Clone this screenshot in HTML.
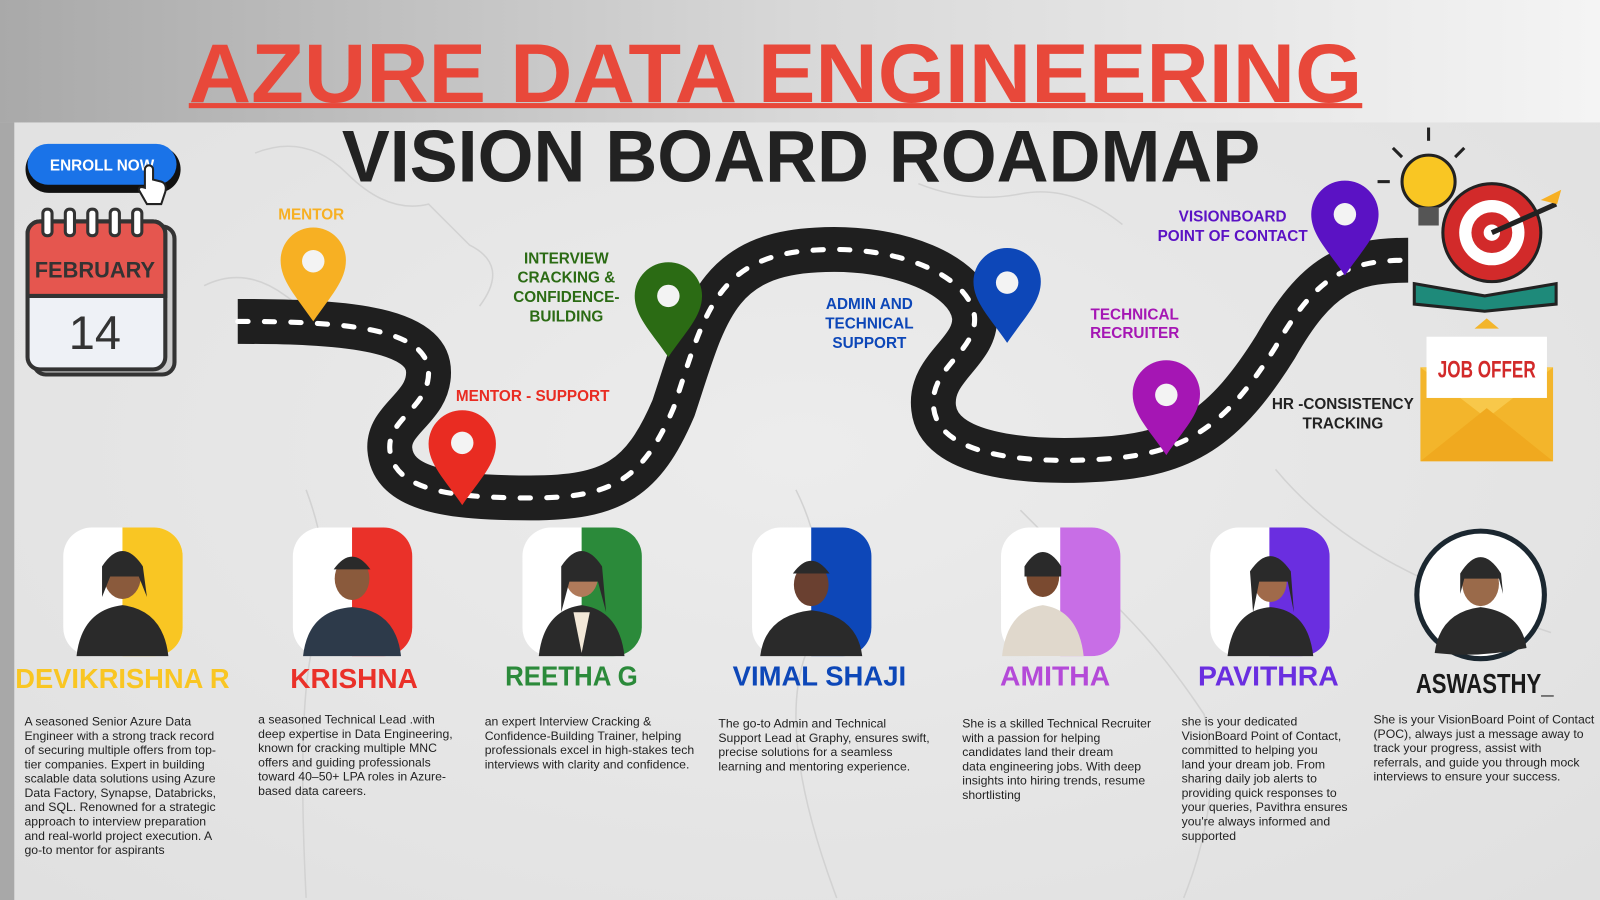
<!DOCTYPE html>
<html><head><meta charset="utf-8"><style>
html,body{margin:0;padding:0;width:1600px;height:900px;overflow:hidden;background:#e6e6e6}
svg{display:block}
text{font-family:"Liberation Sans",sans-serif}
</style></head><body>
<svg width="1600" height="900" viewBox="0 0 1568 882" preserveAspectRatio="none" xmlns="http://www.w3.org/2000/svg">
<defs>
<linearGradient id="top" x1="0" x2="1" y1="0" y2="0"><stop offset="0" stop-color="#a9a9a9"/><stop offset="0.5" stop-color="#d8d8d8"/><stop offset="1" stop-color="#f4f4f4"/></linearGradient>
<radialGradient id="bg" cx="0.5" cy="0.5" r="0.7"><stop offset="0" stop-color="#ececec"/><stop offset="1" stop-color="#e0e0e0"/></radialGradient>
</defs>
<rect width="1568" height="882" fill="url(#bg)"/>
<rect width="1568" height="120" fill="url(#top)"/>
<rect x="0" y="120" width="14" height="762" fill="#a8a8a8"/>
<g fill="none" stroke="#d2d2d2" stroke-width="1.5">
<path d="M250 150 Q300 130 340 170 T420 200 L460 240 Q500 260 470 300"/>
<path d="M200 280 Q240 260 280 290 T360 310"/>
<path d="M300 480 Q330 560 310 620 T300 880"/>
<path d="M780 480 Q820 560 790 640 T820 880"/>
<path d="M1000 500 Q1060 560 1100 600 T1180 700 Q1200 780 1160 880"/>
<path d="M1250 460 Q1300 520 1380 560 T1520 620"/>
<path d="M900 180 Q950 200 1000 190 T1100 220"/>
</g>
<text x="185" y="100" font-size="82" font-weight="bold" fill="#e8483a" textLength="1150" lengthAdjust="spacingAndGlyphs">AZURE DATA ENGINEERING</text>
<rect x="185" y="101" width="1150" height="5" fill="#e8483a"/>
<text x="335" y="178" font-size="72" font-weight="bold" fill="#222" textLength="900" lengthAdjust="spacingAndGlyphs">VISION BOARD ROADMAP</text>
<rect x="25" y="143" width="152" height="46" rx="23" fill="#111"/>
<rect x="27" y="141" width="146" height="40" rx="20" fill="#1a73e8"/>
<text x="100" y="167" font-size="15" font-weight="bold" fill="#fff" text-anchor="middle">ENROLL NOW</text>
<path d="M142 178 l0 -12 a4 4 0 0 1 8 0 l0 10 l8 2 q6 2 4 10 l-4 12 l-14 0 l-8 -14 q0 -4 6 -2z" fill="#fff" stroke="#222" stroke-width="2"/>
<rect x="33" y="222" width="138" height="145" rx="12" fill="#ccc" stroke="#333" stroke-width="4"/>
<rect x="27" y="217" width="135" height="145" rx="12" fill="#eef1f6" stroke="#333" stroke-width="4"/>
<path d="M27 290 L27 229 a12 12 0 0 1 12 -12 L150 217 a12 12 0 0 1 12 12 L162 290z" fill="#e5564f" stroke="#333" stroke-width="4"/>
<g fill="#fff" stroke="#333" stroke-width="3"><rect x="42" y="205" width="9" height="26" rx="4"/><rect x="64" y="205" width="9" height="26" rx="4"/><rect x="86" y="205" width="9" height="26" rx="4"/><rect x="108" y="205" width="9" height="26" rx="4"/><rect x="130" y="205" width="9" height="26" rx="4"/></g>
<text x="93" y="272" font-size="22" font-weight="bold" fill="#333" text-anchor="middle" textLength="118" lengthAdjust="spacingAndGlyphs">FEBRUARY</text>
<text x="93" y="342" font-size="46" fill="#333" text-anchor="middle">14</text>
<path d="M233 315 C330 315 420 320 420 365 C420 400 380 410 382 440 C385 480 440 488 520 488 C600 488 630 470 660 400 C690 310 700 250 800 245 C880 240 950 270 955 310 C958 345 910 360 915 400 C920 445 1000 455 1080 450 C1160 445 1200 420 1250 340 C1290 270 1320 255 1380 255" fill="none" stroke="#1f1f1f" stroke-width="44" stroke-linejoin="round"/>
<path d="M233 315 C330 315 420 320 420 365 C420 400 380 410 382 440 C385 480 440 488 520 488 C600 488 630 470 660 400 C690 310 700 250 800 245 C880 240 950 270 955 310 C958 345 910 360 915 400 C920 445 1000 455 1080 450 C1160 445 1200 420 1250 340 C1290 270 1320 255 1380 255" fill="none" stroke="#fff" stroke-width="5" stroke-dasharray="10 16" stroke-linecap="round"/>
<g>
<path d="M307 315 C290 290 275 275 275 255 a32 32 0 0 1 64 0 C339 275 324 290 307 315z" fill="#f7b023"/><circle cx="307" cy="256" r="11" fill="#f3f3f3"/>
<path d="M453 495 C436 470 420 455 420 435 a33 33 0 0 1 66 0 C486 455 470 470 453 495z" fill="#e92c22"/><circle cx="453" cy="434" r="11" fill="#f3f3f3"/>
<path d="M655 350 C638 325 622 310 622 290 a33 33 0 0 1 66 0 C688 310 672 325 655 350z" fill="#2b6b14"/><circle cx="655" cy="290" r="11" fill="#f3f3f3"/>
<path d="M987 336 C970 311 954 296 954 276 a33 33 0 0 1 66 0 C1020 296 1004 311 987 336z" fill="#0d47b8"/><circle cx="987" cy="277" r="11" fill="#f3f3f3"/>
<path d="M1143 446 C1126 421 1110 406 1110 386 a33 33 0 0 1 66 0 C1176 406 1160 421 1143 446z" fill="#a516b4"/><circle cx="1143" cy="387" r="11" fill="#f3f3f3"/>
<path d="M1318 270 C1301 245 1285 230 1285 210 a33 33 0 0 1 66 0 C1351 230 1335 245 1318 270z" fill="#5b12c4"/><circle cx="1318" cy="210" r="11" fill="#f3f3f3"/>
</g>
<g font-size="15" font-weight="bold" text-anchor="middle">
<text x="305" y="215" fill="#f7b023">MENTOR</text>
<text x="522" y="393" fill="#e92c22">MENTOR - SUPPORT</text>
<text fill="#2b6b14"><tspan x="555" y="258">INTERVIEW</tspan><tspan x="555" y="277">CRACKING &amp;</tspan><tspan x="555" y="296">CONFIDENCE-</tspan><tspan x="555" y="315">BUILDING</tspan></text>
<text fill="#0d47b8"><tspan x="852" y="303">ADMIN AND</tspan><tspan x="852" y="322">TECHNICAL</tspan><tspan x="852" y="341">SUPPORT</tspan></text>
<text fill="#a516b4"><tspan x="1112" y="313">TECHNICAL</tspan><tspan x="1112" y="331">RECRUITER</tspan></text>
<text fill="#5b12c4"><tspan x="1208" y="217">VISIONBOARD</tspan><tspan x="1208" y="236">POINT OF CONTACT</tspan></text>
<text fill="#222"><tspan x="1316" y="401">HR -CONSISTENCY</tspan><tspan x="1316" y="420">TRACKING</tspan></text>
</g>
<circle cx="1400" cy="178" r="26" fill="#f9c623" stroke="#222" stroke-width="3"/>
<rect x="1390" y="203" width="20" height="18" fill="#555"/>
<g stroke="#222" stroke-width="3"><line x1="1400" y1="125" x2="1400" y2="138"/><line x1="1365" y1="145" x2="1374" y2="154"/><line x1="1435" y1="145" x2="1426" y2="154"/><line x1="1350" y1="178" x2="1362" y2="178"/></g>
<circle cx="1462" cy="228" r="48" fill="#d22a2a" stroke="#222" stroke-width="3"/>
<circle cx="1462" cy="228" r="32" fill="#fff"/><circle cx="1462" cy="228" r="20" fill="#d22a2a"/><circle cx="1462" cy="228" r="8" fill="#fff"/>
<line x1="1462" y1="228" x2="1525" y2="200" stroke="#222" stroke-width="5"/>
<path d="M1510 196 l20 -10 l-4 14z" fill="#f7b023"/>
<path d="M1386 278 L1455 290 L1525 278 L1525 298 L1455 305 L1386 298z" fill="#1e8a7a" stroke="#222" stroke-width="3"/>
<rect x="1392" y="360" width="130" height="92" fill="#f3b52b"/>
<path d="M1392 360 L1457 410 L1522 360z" fill="#f8c84a"/>
<path d="M1392 452 L1457 400 L1522 452z" fill="#f0a91f"/>
<rect x="1398" y="330" width="118" height="60" fill="#fff"/>
<path d="M1445 322 L1457 312 L1469 322z" fill="#f3b52b"/>
<text x="1457" y="370" font-size="24" font-weight="bold" fill="#d22a2a" text-anchor="middle" textLength="96" lengthAdjust="spacingAndGlyphs">JOB OFFER</text>
<g>
<g transform="translate(62,517)"><rect width="117" height="126" rx="28" fill="#fff"/><path d="M58 0 H89 a28 28 0 0 1 28 28 V98 a28 28 0 0 1 -28 28 H58z" fill="#f9c623"/></g>
<g transform="translate(287,517)"><rect width="117" height="126" rx="28" fill="#fff"/><path d="M58 0 H89 a28 28 0 0 1 28 28 V98 a28 28 0 0 1 -28 28 H58z" fill="#ea3129"/></g>
<g transform="translate(512,517)"><rect width="117" height="126" rx="28" fill="#fff"/><path d="M58 0 H89 a28 28 0 0 1 28 28 V98 a28 28 0 0 1 -28 28 H58z" fill="#2b8a3a"/></g>
<g transform="translate(737,517)"><rect width="117" height="126" rx="28" fill="#fff"/><path d="M58 0 H89 a28 28 0 0 1 28 28 V98 a28 28 0 0 1 -28 28 H58z" fill="#0d47b8"/></g>
<g transform="translate(981,517)"><rect width="117" height="126" rx="28" fill="#fff"/><path d="M58 0 H89 a28 28 0 0 1 28 28 V98 a28 28 0 0 1 -28 28 H58z" fill="#c86ee6"/></g>
<g transform="translate(1186,517)"><rect width="117" height="126" rx="28" fill="#fff"/><path d="M58 0 H89 a28 28 0 0 1 28 28 V98 a28 28 0 0 1 -28 28 H58z" fill="#6a2ee0"/></g>
<circle cx="1451" cy="583" r="65" fill="#1b2730"/><circle cx="1451" cy="583" r="60" fill="#fff"/>
</g>
<g fill="#2a2a2a">
<g transform="translate(120,0)"><ellipse cx="0" cy="565" rx="18" ry="22" fill="#8a5a3c"/><path d="M-20 555 q20 -30 40 0 l4 30 l-8 -20 l-28 0 l-8 20z"/><path d="M-45 643 q5 -45 45 -50 q40 5 45 50z"/></g>
<g transform="translate(345,0)"><ellipse cx="0" cy="567" rx="17" ry="21" fill="#8a5a3c"/><path d="M-18 558 q18 -25 36 0z"/><path d="M-48 643 q5 -45 48 -48 q43 3 48 48z" fill="#2d3a4a"/></g>
<g transform="translate(570,0)"><ellipse cx="0" cy="565" rx="16" ry="20" fill="#b07a5a"/><path d="M-20 555 q20 -30 40 0 l4 45 l-8 -30 l-28 0 l-8 30z"/><path d="M-42 643 q5 -45 42 -50 q37 5 42 50z"/><path d="M-8 600 l8 40 l8 -40z" fill="#f2e8d8"/></g>
<g transform="translate(795,0)"><ellipse cx="0" cy="573" rx="17" ry="21" fill="#6a4030"/><path d="M-18 562 q18 -25 36 0z"/><path d="M-50 643 q5 -40 50 -45 q45 5 50 45z"/></g>
<g transform="translate(1022,0)"><ellipse cx="0" cy="565" rx="16" ry="20" fill="#7a4a30"/><path d="M-18 555 q18 -28 36 0 l0 10 l-36 0z"/><path d="M-40 643 q5 -45 40 -50 q35 5 40 50z" fill="#e0d8cc"/></g>
<g transform="translate(1245,0)"><ellipse cx="0" cy="570" rx="16" ry="20" fill="#a06a4a"/><path d="M-20 560 q20 -30 40 0 l3 40 l-6 -30 l-28 0 l-6 30z"/><path d="M-42 643 q5 -45 42 -48 q37 3 42 48z"/></g>
<g transform="translate(1451,0)"><ellipse cx="0" cy="572" rx="18" ry="22" fill="#9a6a4a"/><path d="M-20 562 q20 -32 40 0 l2 20 l-4 -15 l-34 0 l-4 15z"/><path d="M-45 640 q5 -40 45 -45 q40 5 45 40 q-45 10 -90 5z"/></g>
</g>
<g font-size="27" font-weight="bold" text-anchor="middle">
<text x="120" y="674" fill="#f9c623" textLength="210" lengthAdjust="spacingAndGlyphs">DEVIKRISHNA R</text>
<text x="347" y="674" fill="#ea3129" textLength="125" lengthAdjust="spacingAndGlyphs">KRISHNA</text>
<text x="560" y="672" fill="#2b8a3a" textLength="130" lengthAdjust="spacingAndGlyphs">REETHA G</text>
<text x="803" y="672" fill="#0d47b8" textLength="170" lengthAdjust="spacingAndGlyphs">VIMAL SHAJI</text>
<text x="1034" y="672" fill="#b44ad8" textLength="108" lengthAdjust="spacingAndGlyphs">AMITHA</text>
<text x="1243" y="672" fill="#6a2ee0" textLength="138" lengthAdjust="spacingAndGlyphs">PAVITHRA</text>
<text x="1455" y="679" fill="#1a1a1a" textLength="135" lengthAdjust="spacingAndGlyphs">ASWASTHY_</text>
</g>
<g font-size="12" fill="#222">
<text><tspan x="24" y="711">A seasoned Senior Azure Data</tspan><tspan x="24" y="725">Engineer with a strong track record</tspan><tspan x="24" y="739">of securing multiple offers from top-</tspan><tspan x="24" y="753">tier companies. Expert in building</tspan><tspan x="24" y="767">scalable data solutions using Azure</tspan><tspan x="24" y="781">Data Factory, Synapse, Databricks,</tspan><tspan x="24" y="795">and SQL. Renowned for a strategic</tspan><tspan x="24" y="809">approach to interview preparation</tspan><tspan x="24" y="823">and real-world project execution. A</tspan><tspan x="24" y="837">go-to mentor for aspirants</tspan></text>
<text><tspan x="253" y="709">a seasoned Technical Lead .with</tspan><tspan x="253" y="723">deep expertise in Data Engineering,</tspan><tspan x="253" y="737">known for cracking multiple MNC</tspan><tspan x="253" y="751">offers and guiding professionals</tspan><tspan x="253" y="765">toward 40–50+ LPA roles in Azure-</tspan><tspan x="253" y="779">based data careers.</tspan></text>
<text><tspan x="475" y="711">an expert Interview Cracking &amp;</tspan><tspan x="475" y="725">Confidence-Building Trainer, helping</tspan><tspan x="475" y="739">professionals excel in high-stakes tech</tspan><tspan x="475" y="753">interviews with clarity and confidence.</tspan></text>
<text><tspan x="704" y="713">The go-to Admin and Technical</tspan><tspan x="704" y="727">Support Lead at Graphy, ensures swift,</tspan><tspan x="704" y="741">precise solutions for a seamless</tspan><tspan x="704" y="755">learning and mentoring experience.</tspan></text>
<text><tspan x="943" y="713">She is a skilled Technical Recruiter</tspan><tspan x="943" y="727">with a passion for helping</tspan><tspan x="943" y="741">candidates land their dream</tspan><tspan x="943" y="755">data engineering jobs. With deep</tspan><tspan x="943" y="769">insights into hiring trends, resume</tspan><tspan x="943" y="783">shortlisting</tspan></text>
<text><tspan x="1158" y="711">she is your dedicated</tspan><tspan x="1158" y="725">VisionBoard Point of Contact,</tspan><tspan x="1158" y="739">committed to helping you</tspan><tspan x="1158" y="753">land your dream job. From</tspan><tspan x="1158" y="767">sharing daily job alerts to</tspan><tspan x="1158" y="781">providing quick responses to</tspan><tspan x="1158" y="795">your queries, Pavithra ensures</tspan><tspan x="1158" y="809">you're always informed and</tspan><tspan x="1158" y="823">supported</tspan></text>
<text><tspan x="1346" y="709">She is your VisionBoard Point of Contact</tspan><tspan x="1346" y="723">(POC), always just a message away to</tspan><tspan x="1346" y="737">track your progress, assist with</tspan><tspan x="1346" y="751">referrals, and guide you through mock</tspan><tspan x="1346" y="765">interviews to ensure your success.</tspan></text>
</g>
</svg>
</body></html>
